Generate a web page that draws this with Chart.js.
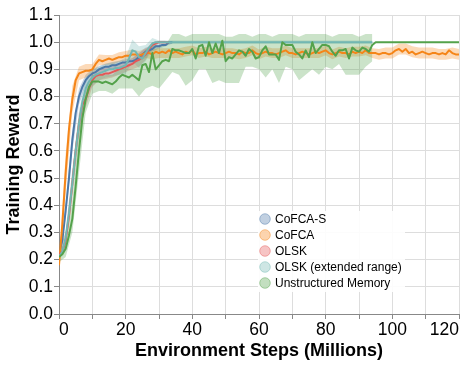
<!DOCTYPE html>
<html>
<head>
<meta charset="utf-8">
<script src="https://cdn.jsdelivr.net/npm/chart.js@4/dist/chart.umd.min.js"></script>
<style>
  html, body { margin: 0; padding: 0; background: #fff; }
  #chart { display: block; }
</style>
</head>
<body>
<canvas id="chart" width="466" height="366"></canvas>
<script>
'use strict';

/* ─── Data ─── */
const steps = [
  0,1,2,3,4,5,6,7,8,9,10,11,12,13,14,15,16,17,18,19,
  20,21,22,23,24,25,26,27,28,29,30,31,32,33,34,35,36,37,38,39,
  40,41,42,43,44,45,46,47,48,49,50,51,52,53,54,55,56,57,58,59,
  60,61,62,63,64,65,66,67,68,69,70,71,72,73,74,75,76,77,78,79,
  80,81,82,83,84,85,86,87,88,89,90,91,92,93,94,95,96,97,98,99,
  100,101,102,103,104,105,106,107,108,109,110,111,112,113,114,115,116,117,118,119,120
];
const bandSteps = [
  0,2,4,6,8,10,12,14,16,18,20,22,24,26,28,30,32,34,36,38,
  40,42,44,46,48,50,52,54,56,58,60,62,64,66,68,70,72,74,76,78,
  80,82,84,86,88,90,92,94,96,98,100,102,104,106,108,110,112,114,116,118,120
];

const seriesNames = ['CoFCA-S', 'CoFCA', 'OLSK', 'OLSK (extended range)', 'Unstructured Memory'];
const seriesColors = ['#4c78a8', '#f58518', '#e45756', '#72b7b2', '#54a24b'];

const cofcaS = [
  0.22,0.27,0.38,0.50,0.64,0.74,0.80,0.835,0.86,0.875,
  0.885,0.89,0.90,0.905,0.91,0.91,0.915,0.915,0.92,0.925,
  0.925,0.93,0.93,0.935,0.945,0.955,0.965,0.97,0.975,0.985,
  0.985,0.99,0.99,1.0,1.0
];
const cofcaSSpread = [0.015,0.03,0.04,0.03,0.02,0.015,0.012,0.012,0.012,0.012,0.012,0.012,0.015,0.015,0.01,0.008,0.005,0.005];

const cofca = [
  0.18,0.33,0.52,0.68,0.79,0.86,0.885,0.89,0.895,0.895,
  0.90,0.92,0.935,0.93,0.935,0.94,0.935,0.94,0.945,0.945,
  0.95,0.95,0.955,0.955,0.95,0.955,0.96,0.96,0.955,0.965,
  0.96,0.965,0.96,0.97,0.96,0.965,0.96,0.955,0.965,0.96,
  0.97,0.955,0.96,0.96,0.965,0.955,0.96,0.965,0.96,0.955,
  0.96,0.965,0.96,0.96,0.955,0.965,0.96,0.96,0.97,0.96,
  0.955,0.96,0.965,0.96,0.96,0.955,0.96,0.965,0.97,0.96,
  0.96,0.955,0.96,0.965,0.96,0.955,0.96,0.965,0.96,0.965,
  0.97,0.96,0.955,0.96,0.965,0.96,0.96,0.955,0.965,0.96,
  0.965,0.96,0.97,0.96,0.96,0.96,0.955,0.96,0.96,0.955,
  0.96,0.97,0.975,0.965,0.975,0.96,0.965,0.955,0.96,0.965,
  0.96,0.955,0.96,0.96,0.955,0.96,0.955,0.97,0.96,0.955,
  0.955
];
const cofcaSpread = [
  0.02,0.07,0.05,0.025,0.025,0.02,0.02,0.018,0.018,0.018,
  0.018,0.018,0.018,0.018,0.018,0.018,0.018,0.018,0.018,0.018,
  0.018,0.018,0.018,0.018,0.018,0.018,0.018,0.018,0.018,0.018,
  0.018,0.018,0.018,0.018,0.018,0.018,0.018,0.018,0.018,0.018,
  0.018,0.018,0.018,0.018,0.018,0.018,0.018,0.018,0.02,0.02,
  0.02,0.02,0.02,0.02,0.02,0.02,0.02,0.02,0.02,0.02,0.02
];

const olsk = [
  0.22,0.23,0.27,0.36,0.48,0.60,0.70,0.77,0.79,0.83,
  0.86,0.875,0.88,0.88,0.885,0.885,0.89,0.895,0.90,0.905,
  0.91,0.915,0.92,0.93,0.935,0.945,0.955,0.975,0.99,0.995,
  1.0,1.0,1.0,1.0
];
const olskSpread = [0.015,0.03,0.05,0.04,0.03,0.025,0.02,0.02,0.02,0.02,0.02,0.02,0.025,0.02,0.01,0.005,0.005];

const olskExt = [
  0.21,0.23,0.28,0.37,0.48,0.60,0.70,0.78,0.83,0.855,
  0.87,0.88,0.885,0.89,0.895,0.90,0.90,0.905,0.905,0.91,
  0.915,0.94,0.97,0.965,0.945,0.94,0.96,0.98,0.995,1.0,
  1.0,1.0,1.0,1.0,1.0,1.0,1.0,1.0,1.0,1.0,
  1.0,1.0,1.0,1.0,1.0,1.0,1.0,1.0,1.0,1.0,
  1.0,1.0,1.0,1.0,1.0,1.0,1.0,1.0,1.0,1.0,
  1.0,1.0,1.0,1.0,1.0,1.0,1.0,1.0,1.0,1.0,
  1.0,1.0,1.0,1.0,1.0,1.0,1.0,1.0,1.0,1.0,
  1.0,1.0,1.0,1.0,1.0,1.0,1.0,1.0,1.0,1.0,
  1.0,1.0,1.0,1.0,1.0
];
const olskExtSpread = [
  0.015,0.03,0.05,0.05,0.04,0.03,0.025,0.025,0.025,0.025,
  0.03,0.04,0.04,0.03,0.02,0.006,0.006,0.006,0.006,0.006,
  0.006,0.006,0.006,0.006,0.006,0.006,0.006,0.006,0.006,0.006,
  0.006,0.006,0.006,0.006,0.006,0.006,0.006,0.006,0.006,0.006,
  0.006,0.006,0.006,0.006,0.006,0.006,0.006,0.006
];

const unstructured = [
  0.21,0.22,0.24,0.29,0.35,0.47,0.60,0.72,0.79,0.835,
  0.855,0.855,0.855,0.85,0.855,0.85,0.845,0.855,0.87,0.88,
  0.875,0.87,0.88,0.87,0.86,0.915,0.92,0.89,0.96,0.90,
  0.915,0.93,0.935,0.93,0.975,0.97,0.97,0.965,0.96,0.96,
  0.975,0.94,0.985,0.99,0.95,1.0,0.96,0.995,0.96,1.005,
  0.93,0.945,0.94,0.955,0.97,0.965,0.95,0.975,0.965,0.94,
  0.945,0.97,0.985,0.955,0.955,0.955,0.935,1.0,0.99,0.99,
  0.99,0.965,0.955,0.94,0.97,0.945,1.0,0.96,0.975,0.99,
  0.99,0.985,0.965,0.95,0.97,0.97,0.975,0.94,0.98,0.97,
  0.965,0.98,0.975,0.965,0.99,1.0,1.0,1.0,1.0,1.0,
  1.0,1.0,1.0,1.0,1.0,1.0,1.0,1.0,1.0,1.0,
  1.0,1.0,1.0,1.0,1.0,1.0,1.0,1.0,1.0,1.0,
  1.0
];
const unstructuredLo = [
  0.19,0.21,0.30,0.52,0.74,0.81,0.82,0.82,0.81,0.83,
  0.83,0.83,0.80,0.83,0.84,0.83,0.86,0.89,0.88,0.84,
  0.86,0.90,0.90,0.85,0.86,0.85,0.85,0.85,0.91,0.91,
  0.90,0.87,0.90,0.85,0.91,0.90,0.86,0.88,0.90,0.88,
  0.91,0.90,0.92,0.88,0.88,0.88,0.91,0.93
];
const unstructuredHi = [
  0.23,0.27,0.42,0.68,0.84,0.88,0.88,0.88,0.88,0.90,
  0.91,0.92,0.93,0.97,0.99,0.99,0.99,1.03,1.03,1.02,
  1.03,1.03,1.03,1.03,1.03,1.02,1.02,1.03,1.03,1.02,
  1.03,1.03,1.02,1.03,1.03,1.03,1.02,1.03,1.03,1.03,
  1.03,1.02,1.03,1.03,1.03,1.02,1.03,1.03
];

const yTicks = [0,0.1,0.2,0.3,0.4,0.5,0.6,0.7,0.8,0.9,1.0,1.1];
const xLabelEvery = 20;

/* ─── Helpers ─── */
const FONT = '"Liberation Sans", Arial, Helvetica, sans-serif';

function rgba(hex, a) {
  const n = parseInt(hex.slice(1), 16);
  return `rgba(${(n >> 16) & 255},${(n >> 8) & 255},${n & 255},${a})`;
}

function linePoints(values) {
  return values.map((v, i) => ({ x: steps[i], y: v }));
}

// band edge from mean +/- spread, sampled on bandSteps
function spreadPoints(values, spread, sign) {
  return spread.map((s, i) => {
    const x = bandSteps[i];
    return { x, y: values[steps.indexOf(x)] + sign * s };
  });
}

function edgePoints(edge) {
  return edge.map((v, i) => ({ x: bandSteps[i], y: v }));
}

function bandPair(hiPts, loPts, color, order) {
  return [
    { data: hiPts, borderWidth: 0, pointRadius: 0, fill: '+1', backgroundColor: rgba(color, 0.3), order },
    { data: loPts, borderWidth: 0, pointRadius: 0, fill: false, order }
  ];
}

function lineSet(label, values, color, order) {
  return {
    label, data: linePoints(values), borderColor: color, borderWidth: 2,
    pointRadius: 0, fill: false, tension: 0, borderJoinStyle: 'round', order
  };
}

/* ─── Legend drawn inside the plot ─── */
const innerLegend = {
  id: 'innerLegend',
  afterDraw(chart) {
    const { ctx, chartArea } = chart;
    const left = chartArea.left + 199;
    const top = chartArea.top + 196;
    ctx.save();
    ctx.fillStyle = 'rgba(255,255,255,0.9)';
    ctx.fillRect(left, top, 147, 81);
    ctx.font = `12px ${FONT}`;
    ctx.textBaseline = 'middle';
    ctx.textAlign = 'left';
    seriesNames.forEach((name, i) => {
      const cy = top + 8 + i * 16;
      ctx.beginPath();
      ctx.arc(left + 7, cy, 5.3, 0, Math.PI * 2);
      ctx.fillStyle = rgba(seriesColors[i], 0.35);
      ctx.fill();
      ctx.strokeStyle = rgba(seriesColors[i], 0.45);
      ctx.lineWidth = 1;
      ctx.stroke();
      ctx.fillStyle = '#000';
      ctx.fillText(name, left + 17, cy + 0.5);
    });
    ctx.restore();
  }
};

/* ─── Chart ─── */
const datasets = [
  lineSet(seriesNames[4], unstructured, seriesColors[4], 1),
  lineSet(seriesNames[3], olskExt, seriesColors[3], 2),
  lineSet(seriesNames[2], olsk, seriesColors[2], 3),
  lineSet(seriesNames[1], cofca, seriesColors[1], 4),
  lineSet(seriesNames[0], cofcaS, seriesColors[0], 5),
  ...bandPair(edgePoints(unstructuredHi), edgePoints(unstructuredLo), seriesColors[4], 11),
  ...bandPair(spreadPoints(olskExt, olskExtSpread, 1), spreadPoints(olskExt, olskExtSpread, -1), seriesColors[3], 12),
  ...bandPair(spreadPoints(olsk, olskSpread, 1), spreadPoints(olsk, olskSpread, -1), seriesColors[2], 13),
  ...bandPair(spreadPoints(cofca, cofcaSpread, 1), spreadPoints(cofca, cofcaSpread, -1), seriesColors[1], 14),
  ...bandPair(spreadPoints(cofcaS, cofcaSSpread, 1), spreadPoints(cofcaS, cofcaSSpread, -1), seriesColors[0], 15)
];

new Chart(document.getElementById('chart'), {
  type: 'line',
  data: { datasets },
  options: {
    responsive: false,
    animation: false,
    layout: { padding: { top: 15, right: 7, left: 0, bottom: 0 } },
    plugins: { legend: { display: false }, tooltip: { enabled: false } },
    scales: {
      x: {
        type: 'linear', min: 0, max: 120,
        afterFit: s => { s.height = 52; },
        grid: { color: '#ddd', tickColor: '#888', tickLength: 5 },
        border: { color: '#888' },
        ticks: {
          stepSize: 10, autoSkip: false, maxRotation: 0, align: 'inner', padding: 1,
          color: '#000', font: { family: FONT, size: 17.5 },
          callback: v => (v % xLabelEvery === 0 ? String(v) : '')
        },
        title: {
          display: true, text: 'Environment Steps (Millions)', color: '#000',
          font: { family: FONT, size: 18, weight: 'bold' }, padding: { top: 0, bottom: 4 }
        }
      },
      y: {
        type: 'linear', min: yTicks[0], max: yTicks[yTicks.length - 1],
        afterFit: s => { s.width = 59; },
        afterBuildTicks: s => { s.ticks = yTicks.map(v => ({ value: v })); },
        grid: { color: '#ddd', tickColor: '#888', tickLength: 5 },
        border: { color: '#888' },
        ticks: {
          padding: 1, color: '#000', font: { family: FONT, size: 17.5 },
          callback: v => Number(v).toFixed(1)
        },
        title: {
          display: true, text: 'Training Reward', color: '#000',
          font: { family: FONT, size: 18, weight: 'bold' }, padding: { top: 3, bottom: 0 }
        }
      }
    }
  },
  plugins: [innerLegend]
});
</script>
</body>
</html>
